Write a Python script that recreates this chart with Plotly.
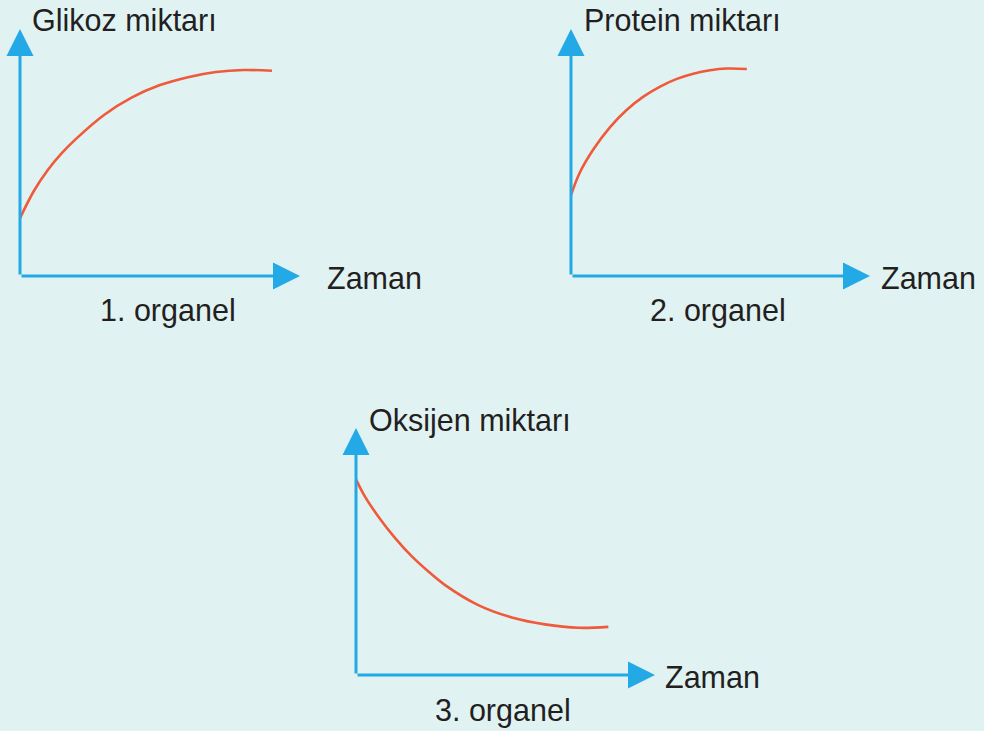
import plotly.graph_objects as go

COLORS = {
    "bg": "#E1F2F3",
    "axis": "#22A9E6",
    "curve": "#EF5A3A",
    "text": "#231F20",
}
FONT = "Liberation Sans, Arial, sans-serif"
W, H = 984, 731

# panel texts
y_titles = ["Glikoz miktarı", "Protein miktarı", "Oksijen miktarı"]
x_title = "Zaman"
panel_labels = ["1. organel", "2. organel", "3. organel"]

# curves (Zaman vs amount, arbitrary units 0-10)
zaman_1 = [0, 0.5, 1, 1.5, 2, 3, 4, 5, 6, 7, 8, 9]
glikoz = [2.34, 3.45, 4.3, 4.98, 5.55, 6.52, 7.23, 7.73, 8.05, 8.26, 8.34, 8.31]

zaman_2 = [0, 0.3, 0.75, 1.3, 1.86, 2.42, 2.98, 3.54, 4.09, 4.65, 5.21, 5.88]
protein = [3.28, 4.2, 5.13, 6.02, 6.72, 7.26, 7.67, 7.98, 8.19, 8.33, 8.4, 8.38]

zaman_3 = [0, 0.3, 0.75, 1.31, 1.86, 2.42, 2.98, 4.09, 5.21, 6.32, 7.44, 8.44]
oksijen = [7.92, 7.22, 6.41, 5.54, 4.81, 4.19, 3.64, 2.83, 2.33, 2.05, 1.91, 1.95]

# panel geometry in pixels: origin, px per unit
panels = [
    dict(ox=20, oy=276, sx=28.0, sy=24.7),
    dict(ox=571, oy=276, sx=29.9, sy=24.7),
    dict(ox=356, oy=675, sx=29.9, sy=24.7),
]
RNG = [-0.5, 10.5]


def px_x(p):
    return p / W


def px_y(p):
    return 1 - p / H


fig = go.Figure()
layout = {}
curves = [(zaman_1, glikoz), (zaman_2, protein), (zaman_3, oksijen)]

for i, (pn, (xs, ys)) in enumerate(zip(panels, curves), start=1):
    suffix = "" if i == 1 else str(i)
    x0 = pn["ox"] + pn["sx"] * RNG[0]
    x1 = pn["ox"] + pn["sx"] * RNG[1]
    yb = pn["oy"] - pn["sy"] * RNG[0]
    yt = pn["oy"] - pn["sy"] * RNG[1]
    layout["xaxis" + suffix] = dict(
        domain=[px_x(x0), px_x(x1)], range=RNG, visible=False,
        anchor="y" + suffix, fixedrange=True,
    )
    layout["yaxis" + suffix] = dict(
        domain=[px_y(yb), px_y(yt)], range=RNG, visible=False,
        anchor="x" + suffix, fixedrange=True,
    )
    fig.add_trace(go.Scatter(
        x=xs, y=ys, mode="lines", line_shape="spline",
        line=dict(color=COLORS["curve"], width=2.6, smoothing=1),
        xaxis="x" + suffix, yaxis="y" + suffix,
        hoverinfo="skip", showlegend=False,
    ))
    # axis arrows
    for tip in [(10, 0), (0, 10)]:
        fig.add_annotation(
            x=tip[0], y=tip[1], ax=0, ay=0,
            xref="x" + suffix, yref="y" + suffix,
            axref="x" + suffix, ayref="y" + suffix,
            text="", showarrow=True,
            arrowhead=2, arrowsize=1.8, arrowwidth=3,
            arrowcolor=COLORS["axis"],
        )

fig.update_layout(**layout)

# text labels (pixel positions)
texts = [
    (y_titles[0], 30, 20, "left"),
    (x_title, 325, 278, "left"),
    (panel_labels[0], 168, 310, "center"),
    (y_titles[1], 582, 20, "left"),
    (x_title, 879, 278, "left"),
    (panel_labels[1], 718, 310, "center"),
    (y_titles[2], 367, 420, "left"),
    (x_title, 663, 677, "left"),
    (panel_labels[2], 503, 710, "center"),
]
for t, x, y, anchor in texts:
    fig.add_annotation(
        x=px_x(x), y=px_y(y), xref="paper", yref="paper",
        text=t, showarrow=False, xanchor=anchor, yanchor="middle",
        font=dict(family=FONT, size=30.5, color=COLORS["text"]),
    )

fig.update_layout(
    width=W, height=H,
    paper_bgcolor=COLORS["bg"],
    plot_bgcolor=COLORS["bg"],
    margin=dict(l=0, r=0, t=0, b=0),
    showlegend=False,
)

fig.write_html(
    "out.html",
    config={"displayModeBar": False},
    post_script="document.body.style.margin='0';document.body.style.overflow='hidden';",
)
